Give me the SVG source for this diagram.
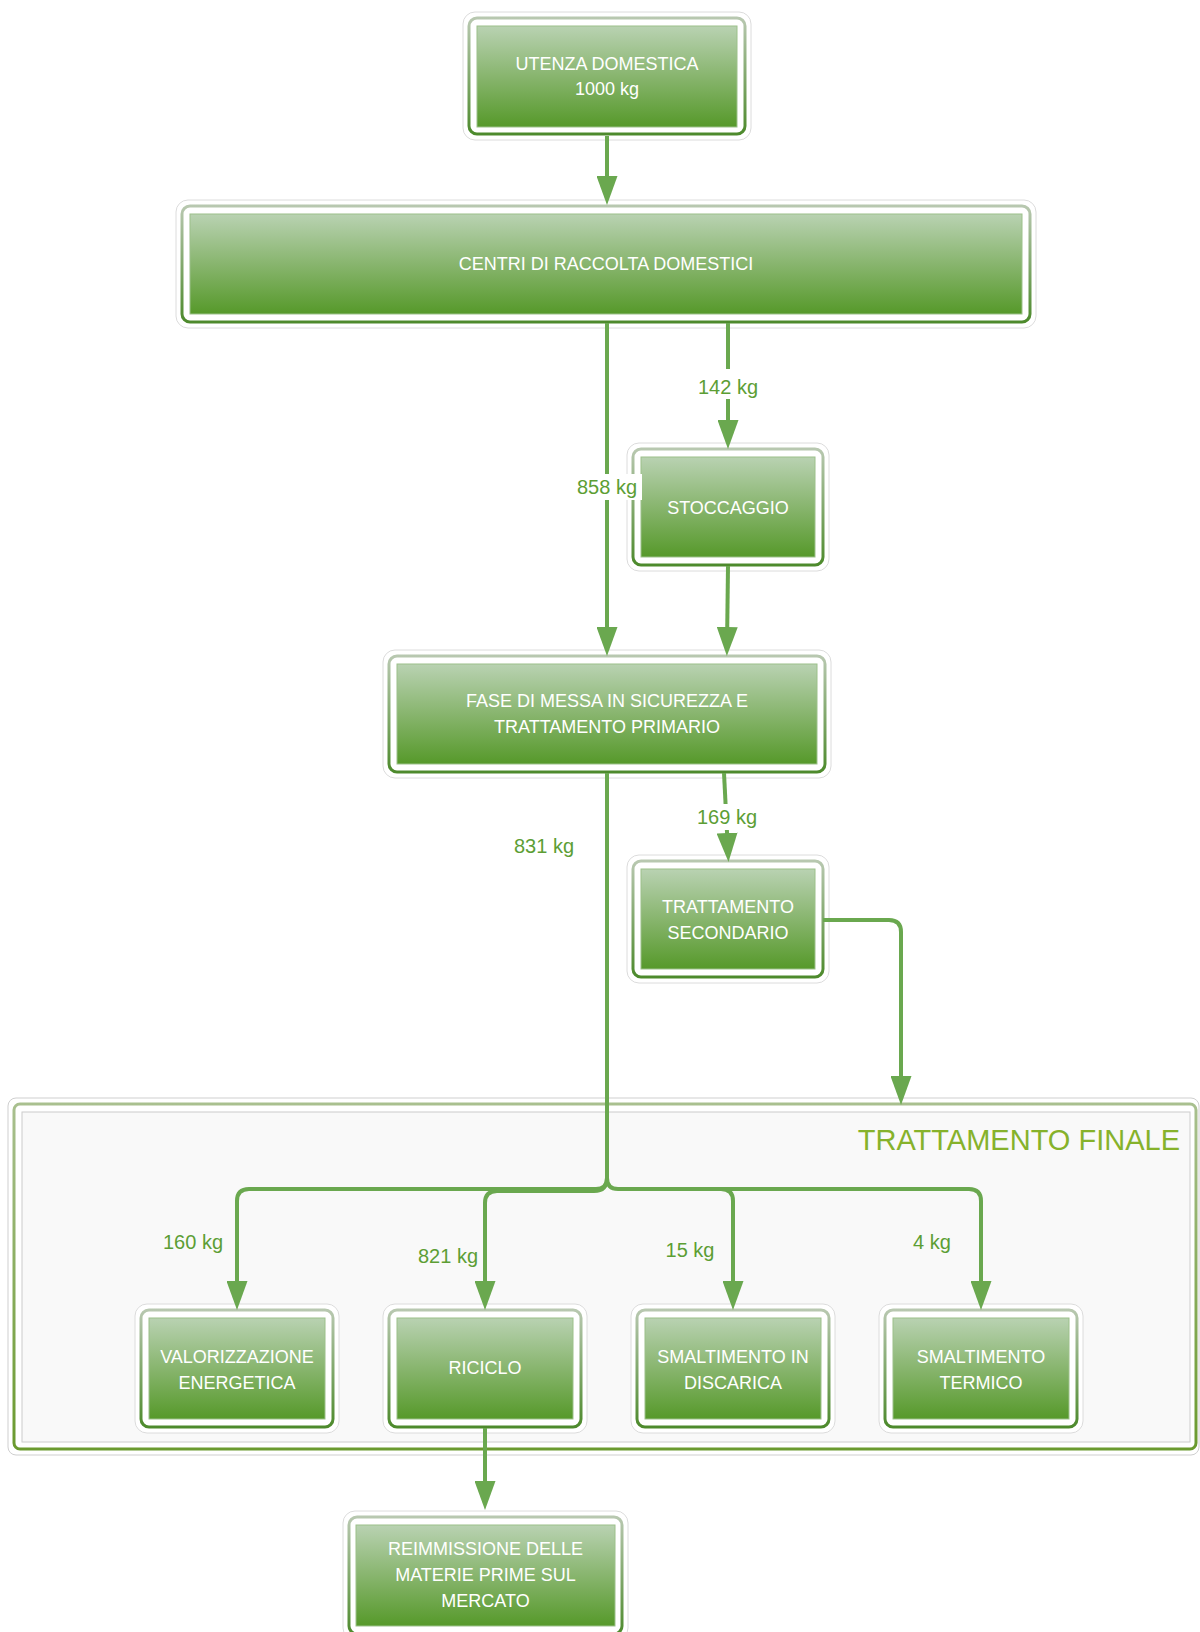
<svg xmlns="http://www.w3.org/2000/svg" width="1200" height="1632" viewBox="0 0 1200 1632">
<defs>
<linearGradient id="fill" x1="0" y1="0" x2="0" y2="1">
<stop offset="0" stop-color="#b9d2b2"/>
<stop offset="0.5" stop-color="#88b56e"/>
<stop offset="1" stop-color="#56992a"/>
</linearGradient>
<linearGradient id="frame" x1="0" y1="0" x2="0" y2="1">
<stop offset="0" stop-color="#b8c8b0"/>
<stop offset="1" stop-color="#4d8a2c"/>
</linearGradient>
<linearGradient id="cframe" x1="0" y1="0" x2="0" y2="1">
<stop offset="0" stop-color="#a9c08f"/>
<stop offset="1" stop-color="#6a9a2e"/>
</linearGradient>
<marker id="ah" markerUnits="userSpaceOnUse" markerWidth="29" markerHeight="21" refX="19" refY="10.5" orient="auto">
<path d="M0,0 L29,10.5 L0,21 z" fill="#6aa84f"/>
</marker>
<style>
.halo{fill:#ffffff;stroke:#dcdcdc;stroke-width:1}
.frm{fill:#ffffff;stroke:url(#frame);stroke-width:3}
.inr{fill:url(#fill);stroke:#9cc08a;stroke-width:1}
.nt{font-family:"Liberation Sans",Arial,sans-serif;font-size:18px;fill:#ffffff;text-anchor:middle}
.lb{font-family:"Liberation Sans",Arial,sans-serif;font-size:20px;fill:#5c9e34;text-anchor:middle}
.cn{fill:none;stroke:#6aa84f;stroke-width:4;marker-end:url(#ah)}
.cn2{fill:none;stroke:#6aa84f;stroke-width:4}
</style>
</defs>
<rect width="1200" height="1632" fill="#ffffff"/>

<g id="container-trattamento-finale">
<rect x="8" y="1098" width="1191" height="357" rx="8" fill="#ffffff" stroke="#cfcfcf" stroke-width="1"/>
<rect x="14" y="1104" width="1182" height="345" rx="6" fill="#ffffff" stroke="url(#cframe)" stroke-width="3"/>
<rect x="22" y="1112" width="1168" height="330" fill="#f9f9f9" stroke="#cccccc" stroke-width="1"/>
<text x="1180" y="1150" font-family="&quot;Liberation Sans&quot;,Arial,sans-serif" font-size="29" fill="#86b22b" text-anchor="end">TRATTAMENTO FINALE</text>
</g>

<g id="node-utenza">
<rect class="halo" x="463" y="12" width="288" height="128" rx="12"/>
<rect class="frm" x="469" y="18" width="276" height="116" rx="8"/>
<rect class="inr" x="477" y="26" width="260" height="101"/>
<text class="nt" x="607" y="70">UTENZA DOMESTICA</text>
<text class="nt" x="607" y="95">1000 kg</text>
</g>

<g id="node-centri">
<rect class="halo" x="176" y="200" width="860" height="128" rx="12"/>
<rect class="frm" x="182" y="206" width="848" height="116" rx="8"/>
<rect class="inr" x="190" y="214" width="832" height="100"/>
<text class="nt" x="606" y="269.5">CENTRI DI RACCOLTA DOMESTICI</text>
</g>

<g id="node-stoccaggio">
<rect class="halo" x="627" y="443" width="202" height="128" rx="12"/>
<rect class="frm" x="633" y="449" width="190" height="116" rx="8"/>
<rect class="inr" x="641" y="457" width="174" height="100"/>
<text class="nt" x="728" y="514">STOCCAGGIO</text>
</g>

<g id="node-fase">
<rect class="halo" x="383" y="650" width="448" height="128" rx="12"/>
<rect class="frm" x="389" y="656" width="436" height="116" rx="8"/>
<rect class="inr" x="397" y="664" width="420" height="100"/>
<text class="nt" x="607" y="706.5">FASE DI MESSA IN SICUREZZA E</text>
<text class="nt" x="607" y="732.5">TRATTAMENTO PRIMARIO</text>
</g>

<g id="node-trattamento-secondario">
<rect class="halo" x="627" y="855" width="202" height="128" rx="12"/>
<rect class="frm" x="633" y="861" width="190" height="116" rx="8"/>
<rect class="inr" x="641" y="869" width="174" height="100"/>
<text class="nt" x="728" y="912.5">TRATTAMENTO</text>
<text class="nt" x="728" y="938.5">SECONDARIO</text>
</g>

<g id="node-valorizzazione">
<rect class="halo" x="135" y="1304" width="204" height="129" rx="12"/>
<rect class="frm" x="141" y="1310" width="192" height="117" rx="8"/>
<rect class="inr" x="149" y="1318" width="176" height="101"/>
<text class="nt" x="237" y="1362.5">VALORIZZAZIONE</text>
<text class="nt" x="237" y="1388.5">ENERGETICA</text>
</g>

<g id="node-riciclo">
<rect class="halo" x="383" y="1304" width="204" height="129" rx="12"/>
<rect class="frm" x="389" y="1310" width="192" height="117" rx="8"/>
<rect class="inr" x="397" y="1318" width="176" height="101"/>
<text class="nt" x="485" y="1374">RICICLO</text>
</g>

<g id="node-discarica">
<rect class="halo" x="631" y="1304" width="204" height="129" rx="12"/>
<rect class="frm" x="637" y="1310" width="192" height="117" rx="8"/>
<rect class="inr" x="645" y="1318" width="176" height="101"/>
<text class="nt" x="733" y="1362.5">SMALTIMENTO IN</text>
<text class="nt" x="733" y="1388.5">DISCARICA</text>
</g>

<g id="node-termico">
<rect class="halo" x="879" y="1304" width="204" height="129" rx="12"/>
<rect class="frm" x="885" y="1310" width="192" height="117" rx="8"/>
<rect class="inr" x="893" y="1318" width="176" height="101"/>
<text class="nt" x="981" y="1362.5">SMALTIMENTO</text>
<text class="nt" x="981" y="1388.5">TERMICO</text>
</g>

<g id="node-reimmissione">
<rect class="halo" x="343" y="1511" width="285" height="129" rx="12"/>
<rect class="frm" x="349" y="1517" width="273" height="117" rx="8"/>
<rect class="inr" x="356" y="1525" width="259" height="101"/>
<text class="nt" x="485.5" y="1554.5">REIMMISSIONE DELLE</text>
<text class="nt" x="485.5" y="1580.5">MATERIE PRIME SUL</text>
<text class="nt" x="485.5" y="1606.5">MERCATO</text>
</g>

<g id="connectors">
<path class="cn" d="M607,136 V195"/>
<path class="cn" d="M607,323 V646"/>
<path class="cn" d="M728,323 V439"/>
<path class="cn" d="M728,566 L727,646"/>
<path class="cn" d="M724,773 L728,852"/>
<path class="cn" d="M823,920 H889 Q901,920 901,932 V1095"/>
<path class="cn" d="M607,773 V1178 Q607,1189 596,1189 H249 Q237,1189 237,1201 V1300"/>
<path class="cn" d="M607,1178 Q607,1191 594,1191 H497 Q485,1191 485,1203 V1300"/>
<path class="cn" d="M607,1178 Q607,1189 618,1189 H721 Q733,1189 733,1201 V1300"/>
<path class="cn" d="M721,1189 H969 Q981,1189 981,1201 V1300"/>
<path class="cn" d="M485,1428 V1500"/>
<rect x="693" y="369" width="70" height="30" fill="#ffffff"/>
<text class="lb" x="728" y="394">142 kg</text>
<rect x="572" y="474" width="70" height="26" fill="#ffffff"/>
<text class="lb" x="607" y="494">858 kg</text>
<rect x="692" y="804" width="70" height="26" fill="#ffffff"/>
<text class="lb" x="727" y="824">169 kg</text>
<text class="lb" x="544" y="853">831 kg</text>
<text class="lb" x="193" y="1249">160 kg</text>
<text class="lb" x="448" y="1263">821 kg</text>
<text class="lb" x="690" y="1257">15 kg</text>
<text class="lb" x="932" y="1249">4 kg</text>
</g>
</svg>
